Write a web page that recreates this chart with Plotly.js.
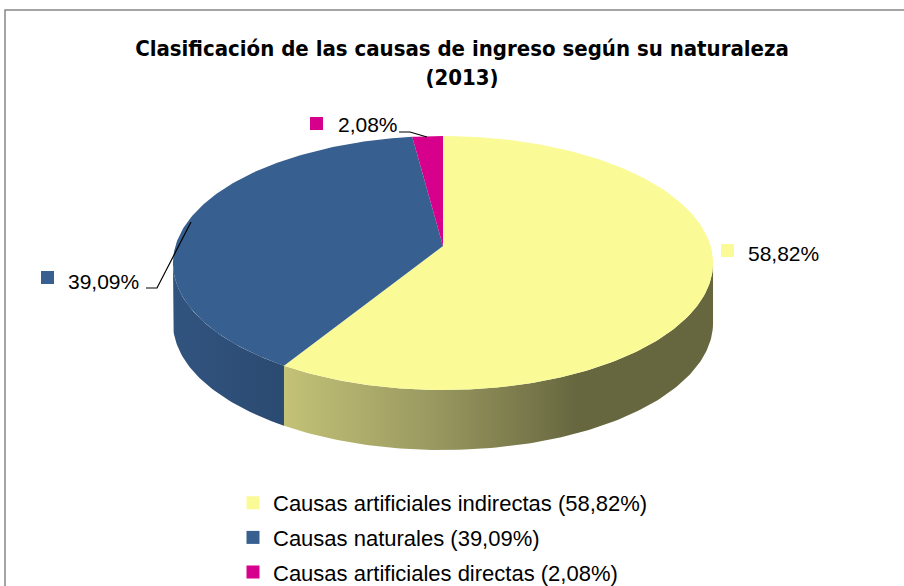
<!DOCTYPE html>
<html>
<head>
<meta charset="utf-8">
<script src="https://cdn.plot.ly/plotly-3.0.1.min.js"></script>
<style>html,body{margin:0;padding:0;background:#fff;overflow:hidden;}#chart{width:904px;height:586px;}</style>
</head>
<body>
<div id="chart"></div>
<script>
// ---- data ----
const categories = ['Causas artificiales indirectas', 'Causas naturales', 'Causas artificiales directas'];
const percentages = [58.82, 39.09, 2.08];
const chartTitle = 'Clasificación de las causas de ingreso según su naturaleza';
const chartYear = '(2013)';

// ---- styles ----
const topColors = ['#FAFA96', '#375F8F', '#D6008C'];
const sideScales = [
  [[0, '#C3C277'], [0.5, '#9A9960'], [1, '#66663F']],
  [[0, '#31547F'], [1, '#2B4A71']],
  [[0, '#A0006A'], [1, '#A0006A']]
];

// ---- geometry of the tilted disc (perspective projection) ----
const CX = 443, CY = 246, S = 267.6, SY = 124.7, K = 0.134, DEPTH = 60;
function proj(deg, dy) {
  const p = deg * Math.PI / 180;
  const d = 1 + K * Math.cos(p);
  return [CX + S * Math.sin(p) / d, CY - SY * Math.cos(p) / d + (dy || 0)];
}
function arc(a0, a1, dy) {
  const pts = [];
  const n = Math.max(2, Math.ceil(Math.abs(a1 - a0)));
  for (let i = 0; i <= n; i++) pts.push(proj(a0 + (a1 - a0) * i / n, dy));
  return pts;
}
const fmt = v => v.toFixed(2).replace('.', ',') + '%';

const total = percentages.reduce((a, b) => a + b, 0);
const bounds = [];
let acc = 0;
percentages.forEach(v => { const a0 = acc / total * 360; acc += v; bounds.push([a0, acc / total * 360]); });

const visR = Math.acos(-K) * 180 / Math.PI;   // right silhouette
const visL = 360 - visR;                       // left silhouette

const sideTraces = [], topTraces = [], legendTraces = [];
bounds.forEach(([a0, a1], i) => {
  const s = Math.max(a0, visR), e = Math.min(a1, visL);
  if (e > s) {
    const top = arc(s, e, 0), bot = arc(e, s, DEPTH);
    const pts = top.concat(bot);
    const xs = pts.map(p => p[0]);
    sideTraces.push({
      type: 'scatter', mode: 'lines', fill: 'toself',
      x: pts.map(p => p[0]), y: pts.map(p => p[1]),
      line: {width: 0, color: topColors[i]},
      fillgradient: {type: 'horizontal', colorscale: sideScales[i],
        start: Math.min(...xs), stop: i === 0 ? 580 : Math.max(...xs)},
      hoverinfo: 'skip', showlegend: false
    });
  }
  const pts = [[CX, CY]].concat(arc(a0, a1, 0), [[CX, CY]]);
  topTraces.push({
    type: 'scatter', mode: 'lines', fill: 'toself',
    x: pts.map(p => p[0]), y: pts.map(p => p[1]),
    line: {width: 0, color: topColors[i]}, fillcolor: topColors[i],
    name: categories[i], text: fmt(percentages[i]), hoverinfo: 'name+text',
    showlegend: false
  });
  legendTraces.push({
    type: 'scatter', mode: 'markers', x: [null], y: [null],
    marker: {symbol: 'square', size: 13, color: topColors[i]},
    name: categories[i] + ' (' + fmt(percentages[i]) + ')',
    legendgroup: 'g' + i, showlegend: true, hoverinfo: 'skip'
  });
});

// ---- data labels with legend keys ----
const labelPos = [[746, 253], [66, 281], [336, 124]];
const keyPos = [[721, 244], [41, 271], [310, 117]];
const annotations = percentages.map((v, i) => ({
  x: labelPos[i][0], y: labelPos[i][1], xref: 'x', yref: 'y',
  text: fmt(v), showarrow: false, xanchor: 'left', yanchor: 'middle',
  font: {family: 'Liberation Sans, Arial, sans-serif', size: 21, color: '#000'}
}));
const shapes = [
  {type: 'path', xref: 'x', yref: 'y', layer: 'above', path: 'M920,10 L5,10 L5,600',
   line: {color: '#878787', width: 1.5}},
  {type: 'path', xref: 'x', yref: 'y', path: 'M146,288 L157,288 L191,222', line: {color: '#000', width: 1.2}},
  {type: 'path', xref: 'x', yref: 'y', path: 'M399,132 L410,132 L427,137', line: {color: '#000', width: 1.2}}
].concat(keyPos.map((p, i) => ({
  type: 'rect', xref: 'x', yref: 'y', x0: p[0], y0: p[1], x1: p[0] + 13, y1: p[1] + 13,
  line: {width: 0}, fillcolor: topColors[i]
})));

const layout = {
  width: 904, height: 586,
  margin: {l: 0, r: 0, t: 0, b: 0, autoexpand: false},
  paper_bgcolor: '#fff', plot_bgcolor: '#fff',
  title: {
    text: '<b>' + chartTitle + '<br>' + chartYear + '</b>',
    x: 462 / 904, xanchor: 'center', xref: 'paper',
    y: 1 - 56 / 586, yanchor: 'top', yref: 'container', automargin: false,
    font: {family: 'Liberation Sans Narrow, DejaVu Sans Condensed, Liberation Sans, sans-serif', size: 22, color: '#000'}
  },
  xaxis: {range: [0, 904], visible: false, fixedrange: true},
  yaxis: {range: [586, 0], visible: false, fixedrange: true},
  showlegend: true,
  legend: {
    x: (273 - 40) / 904, xanchor: 'left', xref: 'container',
    y: 1 - 482 / 586, yanchor: 'top', yref: 'container',
    font: {family: 'Liberation Sans, Arial, sans-serif', size: 22, color: '#000'},
    tracegroupgap: 3, bgcolor: 'rgba(0,0,0,0)'
  },
  annotations: annotations,
  shapes: shapes
};

Plotly.newPlot('chart', sideTraces.concat(topTraces, legendTraces), layout, {displayModeBar: false, staticPlot: true});
</script>
</body>
</html>
